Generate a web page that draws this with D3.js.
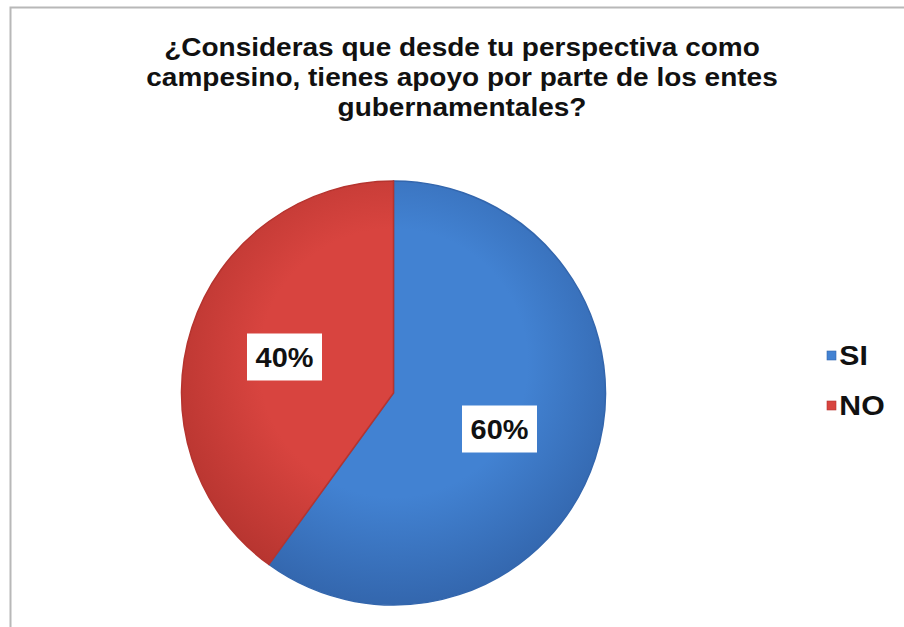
<!DOCTYPE html>
<html>
<head>
<meta charset="utf-8">
<script src="https://cdn.jsdelivr.net/npm/d3@7"></script>
<style>
  body { margin: 0; background: #fff; }
  svg { display: block; font-family: "Liberation Sans", Arial, sans-serif; }
</style>
</head>
<body>
<svg id="chart" width="904" height="627"></svg>
<script>
var titleLines = ['¿Consideras que desde tu perspectiva como', 'campesino, tienes apoyo por parte de los entes', 'gubernamentales?'];
var categories = ['SI', 'NO'];
var values = [60, 40];
var colors = ['#4282d2', '#d8443f'];
var darks = ['#3366ad', '#b5342f'];

var svg = d3.select('#chart');

// frame
svg.append('rect')
    .attr('x', 10.5).attr('y', 7.5)
    .attr('width', 904).attr('height', 640)
    .attr('fill', '#fff')
    .attr('stroke', '#b8b8b8').attr('stroke-width', 2);

// text is a bit stretched sideways in the original
svg.append('g').attr('transform', 'translate(462,0) scale(1.12,1)')
  .append('text')
    .attr('text-anchor', 'middle')
    .attr('font-size', 25).attr('font-weight', 'bold').attr('fill', '#111')
    .selectAll('tspan').data(titleLines).enter().append('tspan')
    .attr('x', 0).attr('y', (d, i) => 56 + i * 30)
    .text(d => d);

var cx = 393.5, cy = 393, r = 212;

var defs = svg.append('defs');
categories.forEach(function (c, i) {
    var g = defs.append('radialGradient').attr('id', 'grad' + i)
        .attr('gradientUnits', 'userSpaceOnUse')
        .attr('cx', 0).attr('cy', -30).attr('r', r * 1.15);
    g.append('stop').attr('offset', '0%').attr('stop-color', colors[i]);
    g.append('stop').attr('offset', '55%').attr('stop-color', colors[i]);
    g.append('stop').attr('offset', '100%').attr('stop-color', darks[i]);
});

var pie = d3.pie().sort(null).value(d => d);
var arcs = pie(values);
var arc = d3.arc().innerRadius(0).outerRadius(r);

var g = svg.append('g').attr('transform', 'translate(' + cx + ',' + cy + ')');
g.selectAll('path').data(arcs).enter().append('path')
    .attr('d', arc)
    .attr('fill', (d, i) => 'url(#grad' + i + ')')
    .attr('stroke', (d, i) => darks[i])
    .attr('stroke-width', 1.5);

// labels
var labelPos = [[499.5, 429], [284.5, 357]];
var lab = g.selectAll('g.lab').data(arcs).enter().append('g')
    .attr('transform', (d, i) => 'translate(' + (labelPos[i][0] - cx) + ',' + (labelPos[i][1] - cy) + ')');
lab.append('rect')
    .attr('x', -37.5).attr('y', -23.5).attr('width', 75).attr('height', 47)
    .attr('fill', '#fff');
lab.append('text')
    .attr('text-anchor', 'middle').attr('dy', '0.36em')
    .attr('transform', 'scale(1.07,1)')
    .attr('font-size', 27).attr('font-weight', 'bold').attr('fill', '#111')
    .text(d => d.data + '%');

// legend
var leg = svg.append('g').selectAll('g').data(categories).enter().append('g')
    .attr('transform', (d, i) => 'translate(827,' + (351 + i * 50) + ')');
leg.append('rect').attr('width', 9).attr('height', 9)
    .attr('fill', (d, i) => colors[i]).attr('stroke', (d, i) => darks[i]).attr('stroke-width', 0.6);
leg.append('text').attr('x', 11).attr('y', 14)
    .attr('transform', 'scale(1.12,1)')
    .attr('font-size', 27).attr('font-weight', 'bold').attr('fill', '#111')
    .text(d => d);
</script>
</body>
</html>
